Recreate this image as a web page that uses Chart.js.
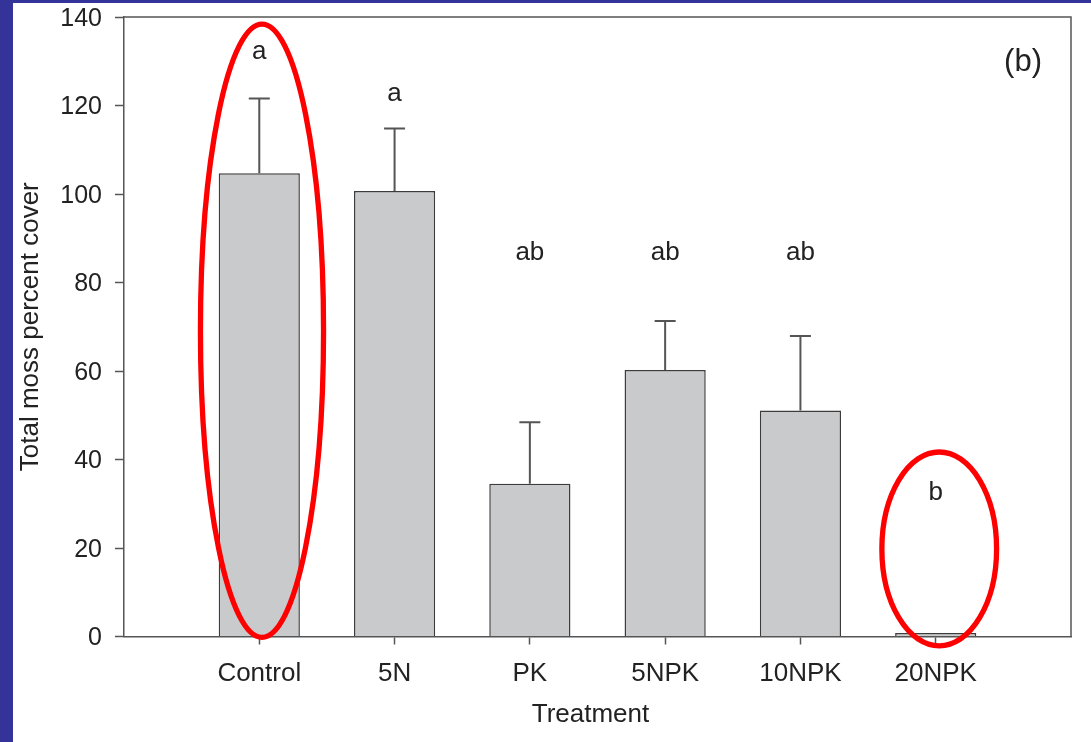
<!DOCTYPE html>
<html>
<head>
<meta charset="utf-8">
<title>Total moss percent cover by treatment</title>
<script src="https://cdn.jsdelivr.net/npm/chart.js@4.4.1/dist/chart.umd.min.js"></script>
<style>
    html, body { margin: 0; padding: 0; }
    body { width: 1091px; height: 742px; background: #333399; overflow: hidden; position: relative; }
    #wrap { position: absolute; left: 13px; top: 3px; width: 1078px; height: 739px; background: #ffffff; }
</style>
</head>
<body>
<div id="wrap"><canvas id="mossChart" width="1078" height="739"></canvas></div>
<script>
// treatments and mean moss cover (%), with the top of each error bar
const categories = ['Control', '5N', 'PK', '5NPK', '10NPK', '20NPK'];
const cover = [104.7, 100.7, 34.5, 60.2, 51.1, 0.8];
const errorTop = [121.6, 114.8, 48.4, 71.3, 67.9, 0.8];
const yTicks = [0, 20, 40, 60, 80, 100, 120, 140];

// significance letters and the level they sit at
const letters = ['a', 'a', 'ab', 'ab', 'ab', 'b'];
const letterLevels = [130.4, 121.1, 85.0, 85.0, 85.0, 30.8];

// red rings drawn round two of the treatments
const highlights = [
    { x: 1.02, yFrom: -0.2, yTo: 138.4, halfWidth: 0.455 },
    { x: 6.026, yFrom: -2.1, yTo: 41.7, halfWidth: 0.424 }
];

const FONT = '"Liberation Sans", Arial, Helvetica, sans-serif';
const AXIS = '#555555';
const TEXT = '#222222';

const extras = {
    id: 'extras',
    afterDatasetsDraw(chart) {
        const { ctx, chartArea, scales: { x, y } } = chart;
        ctx.save();

        // top and right sides of the frame
        ctx.strokeStyle = AXIS;
        ctx.lineWidth = 1.5;
        ctx.beginPath();
        ctx.moveTo(chartArea.left, chartArea.top);
        ctx.lineTo(chartArea.right, chartArea.top);
        ctx.lineTo(chartArea.right, chartArea.bottom);
        ctx.stroke();

        // one-sided error bars
        ctx.lineWidth = 2;
        categories.forEach((c, i) => {
            if (errorTop[i] <= cover[i]) return;
            const px = x.getPixelForValue(i + 1);
            const yTop = y.getPixelForValue(errorTop[i]);
            const yBar = y.getPixelForValue(cover[i]);
            ctx.beginPath();
            ctx.moveTo(px, yBar);
            ctx.lineTo(px, yTop);
            ctx.moveTo(px - 10.5, yTop);
            ctx.lineTo(px + 10.5, yTop);
            ctx.stroke();
        });

        // letters
        ctx.fillStyle = TEXT;
        ctx.font = '26px ' + FONT;
        ctx.textAlign = 'center';
        ctx.textBaseline = 'alphabetic';
        letters.forEach((t, i) => {
            ctx.fillText(t, x.getPixelForValue(i + 1), y.getPixelForValue(letterLevels[i]));
        });

        // x axis title, sitting a little left of the plot centre
        ctx.textBaseline = 'middle';
        ctx.fillText('Treatment', (chartArea.left + chartArea.right) / 2 - 7, chart.height - 27);

        // panel label
        ctx.font = '31px ' + FONT;
        ctx.textAlign = 'right';
        ctx.fillText('(b)', chartArea.right - 29, chartArea.top + 45);

        // red rings
        ctx.strokeStyle = '#ff0000';
        ctx.lineWidth = 5.3;
        const step = x.getPixelForValue(1) - x.getPixelForValue(0);
        highlights.forEach(h => {
            const cx = x.getPixelForValue(h.x);
            const y1 = y.getPixelForValue(h.yTo);
            const y2 = y.getPixelForValue(h.yFrom);
            ctx.beginPath();
            ctx.ellipse(cx, (y1 + y2) / 2, h.halfWidth * step, (y2 - y1) / 2, 0, 0, Math.PI * 2);
            ctx.stroke();
        });

        ctx.restore();
    }
};

new Chart(document.getElementById('mossChart'), {
    type: 'bar',
    data: {
        datasets: [{
            data: categories.map((c, i) => ({ x: i + 1, y: cover[i] })),
            backgroundColor: '#c9cacc',
            borderColor: '#3c3c3c',
            borderWidth: 1.5,
            barPercentage: 0.6,
            categoryPercentage: 1
        }]
    },
    options: {
        responsive: false,
        animation: false,
        devicePixelRatio: 1,
        layout: { padding: { left: 0, right: 20, top: 14, bottom: 0 } },
        plugins: { legend: { display: false }, tooltip: { enabled: false } },
        scales: {
            x: {
                type: 'linear',
                min: 0,
                max: 7,
                offset: false,
                afterBuildTicks: scale => {
                    scale.ticks = [0, 1, 2, 3, 4, 5, 6, 7].map(v => ({ value: v }));
                },
                afterFit: scale => {
                    scale.height = 105.5;
                    scale.paddingLeft = 0;
                    scale.paddingRight = 0;
                },
                grid: {
                    offset: false,
                    drawOnChartArea: false,
                    tickLength: 8,
                    tickWidth: 1.5,
                    tickColor: ctx => (ctx.index >= 1 && ctx.index <= 6) ? AXIS : 'rgba(0,0,0,0)'
                },
                border: { color: AXIS, width: 1.5 },
                ticks: {
                    autoSkip: false,
                    maxRotation: 0,
                    padding: 16,
                    color: TEXT,
                    font: { family: FONT, size: 26, lineHeight: 1 },
                    callback: v => categories[v - 1] || ''
                }
            },
            y: {
                min: 0,
                max: 140,
                afterBuildTicks: scale => {
                    scale.ticks = yTicks.map(v => ({ value: v }));
                },
                afterFit: scale => {
                    scale.width = 111;
                    scale.paddingTop = 0;
                    scale.paddingBottom = 0;
                },
                grid: {
                    drawOnChartArea: false,
                    tickLength: 9,
                    tickWidth: 1.5,
                    tickColor: AXIS
                },
                border: { color: AXIS, width: 1.5 },
                ticks: {
                    padding: 13,
                    labelOffset: 2,
                    color: TEXT,
                    font: { family: FONT, size: 25, lineHeight: 1 }
                },
                title: {
                    display: true,
                    text: 'Total moss percent cover',
                    color: TEXT,
                    font: { family: FONT, size: 26 },
                    padding: { top: 2, bottom: 0 }
                }
            }
        }
    },
    plugins: [extras]
});
</script>
</body>
</html>
